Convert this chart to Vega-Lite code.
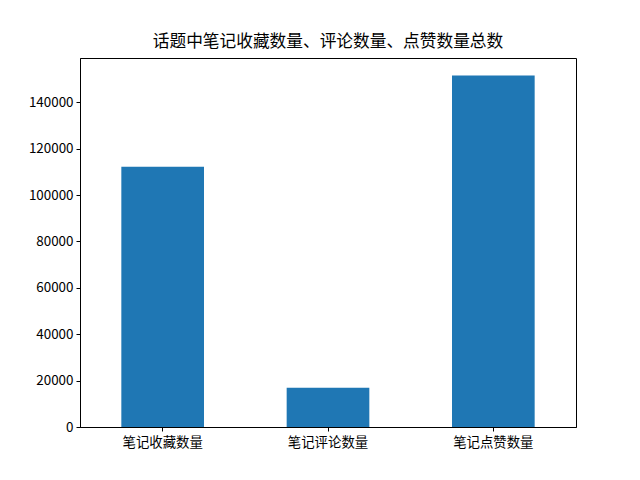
{
  "$schema": "https://vega.github.io/schema/vega-lite/v6.json",
  "width": 496,
  "height": 369,
  "autosize": {"type": "none"},
  "padding": {"left": 80, "top": 58, "right": 64, "bottom": 53},
  "background": "white",
  "title": {
    "text": "话题中笔记收藏数量、评论数量、点赞数量总数",
    "font": "Noto Sans CJK SC",
    "fontSize": 16.7,
    "fontWeight": "normal",
    "color": "black",
    "offset": 7
  },
  "data": {
    "values": [
      {"name": "笔记收藏数量", "value": 112200},
      {"name": "笔记评论数量", "value": 16900},
      {"name": "笔记点赞数量", "value": 151500}
    ]
  },
  "mark": {"type": "bar", "color": "#1f77b4"},
  "encoding": {
    "x": {
      "field": "name",
      "type": "nominal",
      "sort": null,
      "title": null,
      "scale": {"paddingInner": 0.5, "paddingOuter": 0.25},
      "axis": {"labelAngle": 0, "labelPadding": 4}
    },
    "y": {
      "field": "value",
      "type": "quantitative",
      "title": null,
      "scale": {"domain": [0, 159075], "nice": false},
      "axis": {"values": [0, 20000, 40000, 60000, 80000, 100000, 120000, 140000], "format": "d"}
    }
  },
  "config": {
    "view": {"stroke": "black", "strokeWidth": 1},
    "axis": {
      "grid": false,
      "domainColor": "black",
      "tickColor": "black",
      "tickSize": 4,
      "labelColor": "black",
      "labelFont": "Noto Sans CJK SC",
      "labelFontSize": 13.4,
      "labelPadding": 3
    }
  }
}
